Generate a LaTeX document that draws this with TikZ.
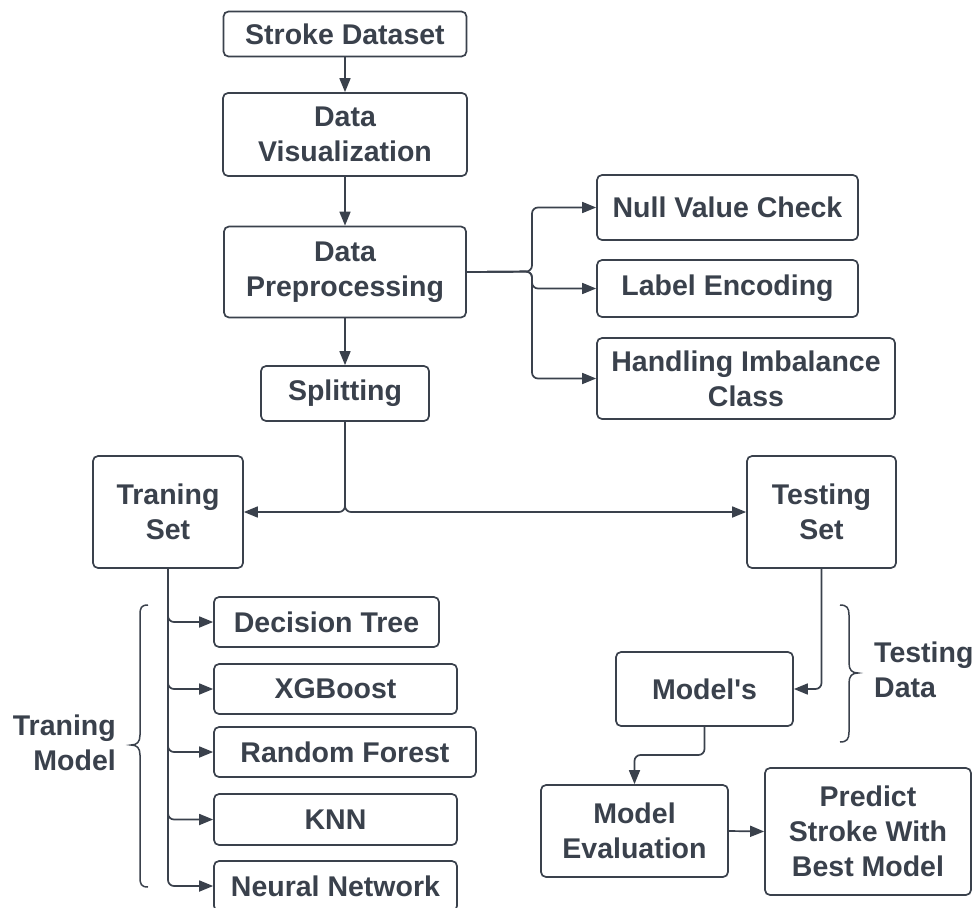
\documentclass[tikz,border=0pt]{standalone}
\usepackage{fontspec}
\setmainfont{Liberation Sans}
\usetikzlibrary{arrows.meta,calc}
\definecolor{ink}{RGB}{58,65,76}
\begin{document}
\begin{tikzpicture}[x=1pt,y=-1pt,
  box/.style={draw=ink, line width=1.7pt, rounded corners=5pt, align=center,
    text=ink, inner sep=0pt, font=\fontsize{28.5}{35}\selectfont\bfseries},
  lbl/.style={text=ink, inner sep=0pt, font=\fontsize{28.5}{35}\selectfont\bfseries},
  arr/.style={draw=ink, line width=1.7pt, rounded corners=6pt, -{Triangle[length=14pt,width=11pt]}},
  brc/.style={draw=ink, line width=1.5pt}]
\useasboundingbox (0,0) rectangle (975,908);
\clip (0,0) rectangle (975,908);
% main column
\node[box, minimum width=243pt, minimum height=45pt] (sd) at (345,34) {Stroke Dataset};
\node[box, minimum width=244pt, minimum height=83pt] (dv) at (345,134.5) {Data\\Visualization};
\node[box, minimum width=242pt, minimum height=91pt] (dp) at (345,272) {Data\\Preprocessing};
\node[box, minimum width=168pt, minimum height=55pt] (sp) at (345,393.5) {Splitting};
% preprocessing steps
\node[box, minimum width=261pt, minimum height=65pt] (nv) at (727.5,207.5) {Null Value Check};
\node[box, minimum width=261pt, minimum height=57pt] (le) at (727.5,288.5) {Label Encoding};
\node[box, minimum width=298pt, minimum height=81pt] (hi) at (746,378.5) {Handling Imbalance\\Class};
% sets
\node[box, minimum width=150pt, minimum height=112pt] (ts) at (168,512) {Traning\\Set};
\node[box, minimum width=149pt, minimum height=112pt] (te) at (821.5,512) {Testing\\Set};
% models
\node[box, minimum width=225pt, minimum height=50pt] (dt) at (326.5,622) {Decision Tree};
\node[box, minimum width=243pt, minimum height=50pt] (xg) at (335.5,689) {XGBoost};
\node[box, minimum width=262pt, minimum height=50pt] (rf) at (345,752) {Random Forest};
\node[box, minimum width=243pt, minimum height=51pt] (kn) at (335.5,819.5) {KNN};
\node[box, minimum width=243pt, minimum height=50pt] (nn) at (335.5,886) {Neural Network};
% testing side
\node[box, minimum width=177pt, minimum height=74pt] (ms) at (704.5,689) {Model\textquotesingle s};
\node[box, minimum width=187pt, minimum height=92pt] (me) at (634.5,831) {Model\\Evaluation};
\node[box, minimum width=206pt, minimum height=127pt] (pr) at (868,831.5) {Predict\\Stroke With\\Best Model};
% labels
\node[lbl, align=right, anchor=east] (tml) at (116,742.5) {Traning\\Model};
\node[lbl, align=left, anchor=west] (tdl) at (874,669.5) {Testing\\Data};
% connectors
\draw[arr] (sd) -- (dv);
\draw[arr] (dv) -- (dp);
\draw[arr] (dp) -- (sp);
\coordinate (bus) at (532,271.5);
\draw[arr] (dp.east) -- (bus) |- (nv.west);
\draw[arr] (dp.east) -- (bus) |- (le.west);
\draw[arr] (dp.east) -- (bus) |- (hi.west);
\coordinate (sj) at (345,512);
\draw[arr] (sp.south) -- (sj) -- (ts.east);
\draw[arr] (sp.south) -- (sj) -- (te.west);
\draw[arr] (ts.south) |- (dt.west);
\draw[arr] (ts.south) |- (xg.west);
\draw[arr] (ts.south) |- (rf.west);
\draw[arr] (ts.south) |- (kn.west);
\draw[arr] (ts.south) |- (nn.west);
\draw[arr] (te.south) |- (ms.east);
\coordinate (mj) at (634.5,755);
\draw[arr] (ms.south) |- (mj) -- (me.north);
\draw[arr] (me.east) -- (pr.west);
% braces
\draw[brc] (148,605) .. controls (141,605) and (140,608) .. (140,615) -- (140,735)
  .. controls (140,742) and (137,745) .. (131,745)
  .. controls (137,745) and (140,748) .. (140,755) -- (140,877)
  .. controls (140,884) and (141,887) .. (148,887);
\draw[brc] (840,605) .. controls (847,605) and (849,608) .. (849,615) -- (849,663)
  .. controls (849,670) and (852,673) .. (858,673)
  .. controls (852,673) and (849,676) .. (849,683) -- (849,732)
  .. controls (849,739) and (847,742) .. (840,742);
\end{tikzpicture}
\end{document}
